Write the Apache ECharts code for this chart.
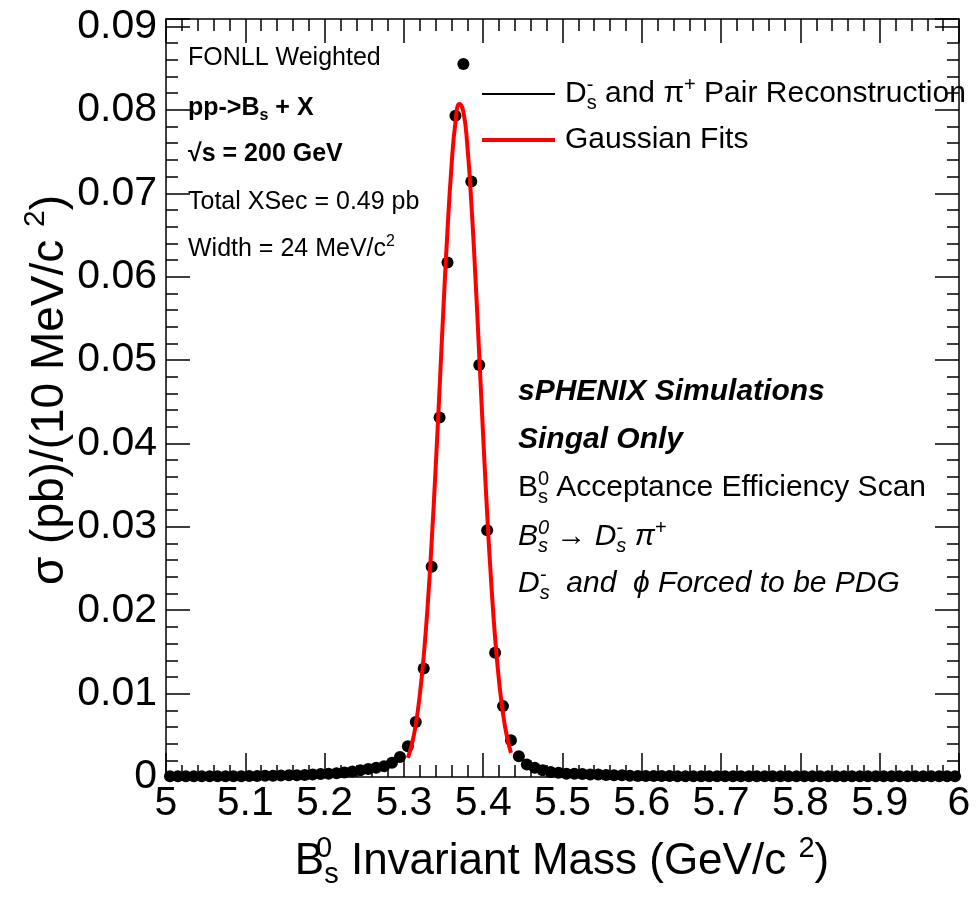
<!DOCTYPE html>
<html>
<head>
<meta charset="utf-8">
<script src="https://cdn.jsdelivr.net/npm/echarts@6/dist/echarts.min.js"></script>
<style>
html, body { margin: 0; padding: 0; background: #fff; }
#main { width: 976px; height: 912px; }
</style>
</head>
<body>
<div id="main"></div>
<script>
// histogram binning (GeV/c^2)
const binLow = 5.0;
const binWidth = 0.01;

// sigma (pb) per 10 MeV bin
const xsecPb = [
    // 5.00 - 5.09
    0.0001, 0.0001, 0.0001, 0.0001, 0.0001, 0.0001, 0.0001, 0.0001, 0.0001, 0.0001,
    // 5.10 - 5.19
    0.00012, 0.00012, 0.00014, 0.00015, 0.00017, 0.0002, 0.00022, 0.00025, 0.0003, 0.00035,
    // 5.20 - 5.29
    0.0004, 0.00045, 0.00055, 0.00065, 0.0008, 0.00095, 0.0011, 0.0013, 0.0017, 0.0024,
    // 5.30 - 5.39
    0.0037, 0.0066, 0.0130, 0.0252, 0.0431, 0.0617, 0.0793, 0.0855, 0.0714, 0.0494,
    // 5.40 - 5.49
    0.0296, 0.0149, 0.0085, 0.0044, 0.0025, 0.0015, 0.0011, 0.0008, 0.0006, 0.0005,
    // 5.50 - 5.59
    0.0004, 0.0004, 0.00035, 0.0003, 0.0003, 0.00025, 0.0002, 0.0002, 0.00015, 0.00012,
    // 5.60 - 5.69
    0.00012, 0.00012, 0.00011, 0.00011, 0.0001, 0.0001, 0.0001, 0.0001, 0.0001, 0.0001,
    // 5.70 - 5.79
    0.0001, 0.0001, 0.0001, 0.0001, 0.0001, 0.0001, 0.0001, 0.0001, 0.0001, 0.0001,
    // 5.80 - 5.89
    0.0001, 0.0001, 0.0001, 0.0001, 0.0001, 0.0001, 0.0001, 0.0001, 0.0001, 0.0001,
    // 5.90 - 5.99
    0.0001, 0.0001, 0.0001, 0.0001, 0.0001, 0.0001, 0.0001, 0.0001, 0.0001, 0.0001
];

// gaussian fit curve
const fitMass = [5.305, 5.310, 5.315, 5.320, 5.325, 5.330, 5.335, 5.340, 5.345, 5.350,
    5.355, 5.360, 5.365, 5.370, 5.375, 5.380, 5.385, 5.390, 5.395, 5.400,
    5.405, 5.410, 5.415, 5.420, 5.425, 5.430, 5.435];
const fitXsec = [0.0023, 0.0039, 0.0063, 0.0098, 0.0145, 0.0206, 0.0282, 0.0370, 0.0466, 0.0565,
    0.0656, 0.0732, 0.0785, 0.0807, 0.0798, 0.0757, 0.0689, 0.0603, 0.0506, 0.0408,
    0.0316, 0.0235, 0.0167, 0.0115, 0.0076, 0.0048, 0.0029];

// axes
const xMin = 5, xMax = 6, xStep = 0.1;
const yMin = 0, yMax = 0.0909, yStep = 0.01, yMinorStep = 0.002;

const seriesNames = ['Ds- and pi+ Pair Reconstruction', 'Gaussian Fits'];

const FONT = 'Liberation Sans';
const BLACK = '#000000';
const RED = '#ff0000';

//  rich text styles: n = normal, sup/sub, sup0 = zero-width sup so the sub stacks under it
function richSet(size, extra) {
    const small = Math.round(size * 0.65);
    const base = Object.assign({fontFamily: FONT, color: BLACK}, extra || {});
    return {
        n: Object.assign({}, base, {fontSize: size, lineHeight: Math.round(size * 1.25)}),
        sup: Object.assign({}, base, {fontSize: small, lineHeight: small, verticalAlign: 'top'}),
        sup0: Object.assign({}, base, {fontSize: small, lineHeight: small, verticalAlign: 'top', width: 0}),
        sub: Object.assign({}, base, {fontSize: small, lineHeight: small, verticalAlign: 'bottom'})
    };
}

function label(x, y, text, size, extra) {
    return {
        type: 'text',
        x: x,
        y: y,
        silent: true,
        style: {
            text: text,
            align: 'left',
            verticalAlign: 'middle',
            rich: richSet(size, extra)
        }
    };
}

const BOLD = {fontWeight: 'bold'};
const ITALIC = {fontStyle: 'italic'};
const BOLDITALIC = {fontWeight: 'bold', fontStyle: 'italic'};

const chart = echarts.init(document.getElementById('main'));

const bins = xsecPb.map((v, i) => [binLow + (i + 0.5) * binWidth, v]);
const fitLine = fitMass.map((m, i) => [m, fitXsec[i]]);

function xAxisDef(pos, showLabel) {
    return {
        type: 'value',
        gridIndex: 0,
        position: pos,
        min: xMin,
        max: xMax,
        interval: xStep,
        axisLine: {show: true, onZero: false, lineStyle: {color: BLACK, width: 1.5}},
        axisTick: {show: true, inside: true, length: 24, lineStyle: {color: BLACK, width: 1.5}},
        minorTick: {show: true, splitNumber: 5, length: 12, lineStyle: {color: BLACK, width: 1.5}},
        splitLine: {show: false},
        axisLabel: {
            show: showLabel,
            color: BLACK,
            fontFamily: FONT,
            fontSize: 41,
            margin: 6
        }
    };
}

function yAxisDef(grid, pos, step, tickLen, showLabel) {
    return {
        type: 'value',
        gridIndex: grid,
        position: pos,
        min: yMin,
        max: yMax,
        interval: step,
        axisLine: {show: grid === 0, onZero: false, lineStyle: {color: BLACK, width: 1.5}},
        axisTick: {show: true, inside: true, length: tickLen, lineStyle: {color: BLACK, width: 1.5}},
        splitLine: {show: false},
        axisLabel: {
            show: showLabel,
            color: BLACK,
            fontFamily: FONT,
            fontSize: 41,
            margin: 9,
            formatter: function (v) {
                return v > 0.0901 ? '' : String(+v.toFixed(2));
            }
        }
    };
}

const gridBox = {left: 166, right: 17, top: 19, bottom: 135};

chart.setOption({
    animation: false,
    backgroundColor: '#ffffff',
    grid: [
        Object.assign({}, gridBox),
        Object.assign({}, gridBox)
    ],
    xAxis: [
        xAxisDef('bottom', true),
        xAxisDef('top', false),
        {type: 'value', gridIndex: 1, min: xMin, max: xMax, show: false}
    ],
    yAxis: [
        yAxisDef(0, 'left', yStep, 24, true),
        yAxisDef(0, 'right', yStep, 24, false),
        //  minor ticks
        yAxisDef(1, 'left', yMinorStep, 12, false),
        yAxisDef(1, 'right', yMinorStep, 12, false)
    ],
    legend: [
        {
            data: [{name: seriesNames[0], icon: 'rect', itemStyle: {color: BLACK}}],
            left: 482,
            top: 75,
            padding: 0,
            itemWidth: 73,
            itemHeight: 2,
            selectedMode: false,
            textStyle: {padding: [0, 0, 0, 5], rich: richSet(30)},
            formatter: function () {
                return '{n|D}{sup0|-}{sub|s}{n| and π}{sup|+}{n| Pair Reconstruction}';
            }
        },
        {
            data: [{name: seriesNames[1], icon: 'rect', itemStyle: {color: RED}}],
            left: 482,
            top: 125,
            padding: 0,
            itemWidth: 73,
            itemHeight: 4,
            selectedMode: false,
            textStyle: {padding: [0, 0, 0, 5], rich: richSet(30)},
            formatter: function () {
                return '{n|Gaussian Fits}';
            }
        }
    ],
    series: [
        {
            name: seriesNames[0],
            type: 'scatter',
            xAxisIndex: 0,
            yAxisIndex: 0,
            symbol: 'circle',
            symbolSize: 12,
            itemStyle: {color: BLACK, opacity: 1},
            data: bins
        },
        {
            name: seriesNames[1],
            type: 'line',
            xAxisIndex: 0,
            yAxisIndex: 0,
            showSymbol: false,
            smooth: true,
            lineStyle: {color: RED, width: 4},
            itemStyle: {color: RED},
            data: fitLine
        }
    ],
    graphic: [
        //  upper left
        label(188, 58, '{n|FONLL Weighted}', 25),
        label(188, 108, '{n|pp->B}{sub|s}{n| + X}', 25, BOLD),
        label(188, 154, '{n|√s = 200 GeV}', 25, BOLD),
        label(188, 202, '{n|Total XSec = 0.49 pb}', 25),
        label(188, 249, '{n|Width = 24 MeV/c}{sup|2}', 25),
        //  right block
        label(518, 392, '{n|sPHENIX Simulations}', 30, BOLDITALIC),
        label(518, 440, '{n|Singal Only}', 30, BOLDITALIC),
        label(518, 488, '{n|B}{sup0|0}{sub|s}{n| Acceptance Efficiency Scan}', 30),
        label(518, 537, '{n|B}{sup0|0}{sub|s}{n| → D}{sup0|-}{sub|s}{n| π}{sup|+}', 30, ITALIC),
        label(518, 584, '{n|D}{sup0|-}{sub|s}{n|  and  ϕ Forced to be PDG}', 30, ITALIC),
        //  axis titles
        {
            type: 'text',
            x: 562,
            y: 862,
            silent: true,
            style: {
                text: '{n|B}{sup0|0}{sub|s}{n| Invariant Mass (GeV/c }{sup|2}{n|)}',
                align: 'center',
                verticalAlign: 'middle',
                rich: richSet(44)
            }
        },
        {
            type: 'text',
            x: 50,
            y: 390,
            rotation: Math.PI / 2,
            silent: true,
            style: {
                text: '{n|σ (pb)/(10 MeV/c }{sup|2}{n|)}',
                align: 'center',
                verticalAlign: 'middle',
                rich: richSet(46)
            }
        }
    ]
});
</script>
</body>
</html>
